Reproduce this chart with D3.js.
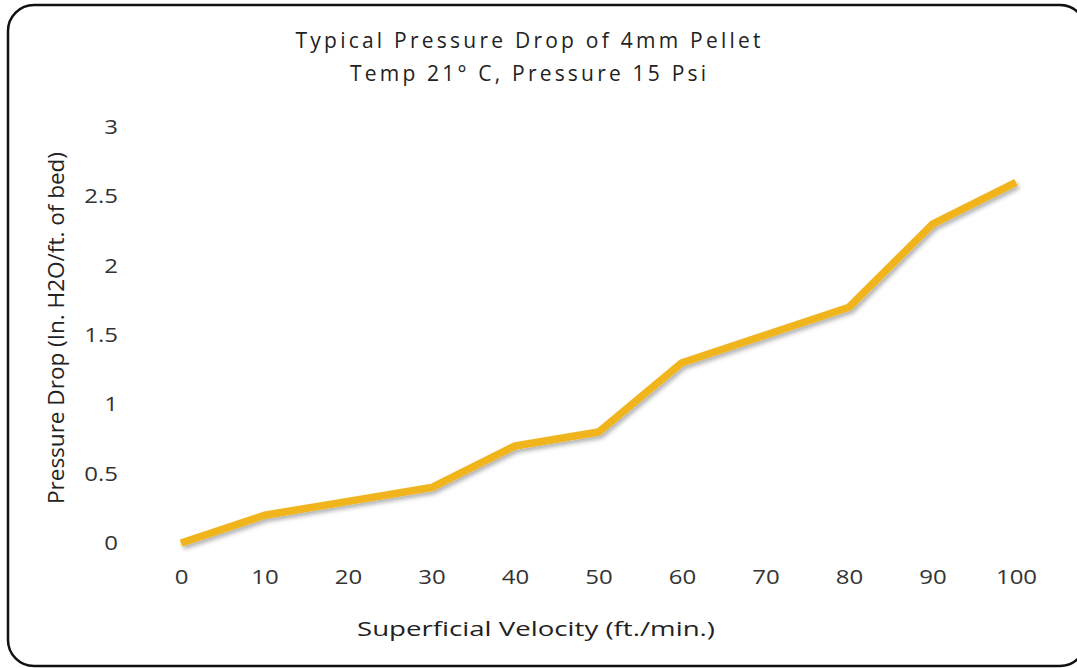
<!DOCTYPE html>
<html>
<head>
<meta charset="utf-8">
<script src="https://cdn.jsdelivr.net/npm/d3@7"></script>
<style>
  body { margin: 0; background: #fff; }
  svg { display: block; }
</style>
</head>
<body>
<div id="chart"></div>
<script>
// chart data
var velocity = [0, 10, 20, 30, 40, 50, 60, 70, 80, 90, 100];
var pressureDrop = [0, 0.2, 0.3, 0.4, 0.7, 0.8, 1.3, 1.5, 1.7, 2.3, 2.6];
var yTicks = [0, 0.5, 1, 1.5, 2, 2.5, 3];
var titleLines = ["Typical Pressure Drop of 4mm Pellet", "Temp 21\u00b0 C, Pressure 15 Psi"];

var width = 1077, height = 668;
var fontFamily = "'Open Sans', 'Noto Sans', sans-serif";
var titleWidths = [465, 356];   // title is letter-spaced in the original

var svg = d3.select("#chart").append("svg")
    .attr("width", width)
    .attr("height", height);

// drop shadow for the line
var defs = svg.append("defs");
var filter = defs.append("filter")
    .attr("id", "shadow")
    .attr("x", "-5%").attr("y", "-5%")
    .attr("width", "110%").attr("height", "120%");
filter.append("feDropShadow")
    .attr("dx", 2).attr("dy", 3)
    .attr("stdDeviation", 2)
    .attr("flood-color", "#000")
    .attr("flood-opacity", 0.3);

// outer rounded border (right side runs off the picture)
svg.append("rect")
    .attr("x", 8)
    .attr("y", 5)
    .attr("width", 1078)
    .attr("height", 661)
    .attr("rx", 26)
    .attr("ry", 26)
    .attr("fill", "#fff")
    .attr("stroke", "#111")
    .attr("stroke-width", 2.5);

var x = d3.scaleLinear().domain([0, 100]).range([181, 1016]);
var y = d3.scaleLinear().domain([0, 3]).range([543, 127]);

// title
svg.append("g").selectAll("text")
    .data(titleLines)
    .enter()
    .append("text")
    .attr("x", 528)
    .attr("y", function (d, i) { return 48 + i * 33; })
    .attr("text-anchor", "middle")
    .attr("font-family", fontFamily)
    .attr("font-size", "21px")
    .attr("textLength", function (d, i) { return titleWidths[i]; })
    .attr("lengthAdjust", "spacing")
    .attr("fill", "#222")
    .text(function (d) { return d; });

// y axis (labels only)
var yAxis = d3.axisLeft(y)
    .tickValues(yTicks)
    .tickSize(0)
    .tickPadding(0)
    .tickFormat(function (d) { return String(d); });
var yG = svg.append("g")
    .attr("transform", "translate(118,0)")
    .call(yAxis);
yG.select(".domain").remove();
yG.selectAll("text")
    .attr("font-family", fontFamily)
    .attr("font-size", "20px")
    .attr("transform", "scale(1.2,1)")
    .attr("fill", "#333");

// x axis (labels only)
var xAxis = d3.axisBottom(x)
    .tickValues(velocity)
    .tickSize(0)
    .tickPadding(0)
    .tickFormat(function (d) { return String(d); });
var xG = svg.append("g")
    .attr("transform", "translate(0,570)")
    .call(xAxis);
xG.select(".domain").remove();
xG.selectAll("text")
    .attr("font-family", fontFamily)
    .attr("font-size", "20px")
    .attr("transform", "scale(1.2,1)")
    .attr("fill", "#333");

// axis titles
svg.append("text")
    .attr("x", 536)
    .attr("y", 636)
    .attr("text-anchor", "middle")
    .attr("font-family", fontFamily)
    .attr("font-size", "20px")
    .attr("textLength", 358)
    .attr("lengthAdjust", "spacingAndGlyphs")
    .attr("fill", "#222")
    .text("Superficial Velocity (ft./min.)");

svg.append("text")
    .attr("transform", "translate(64,328) rotate(-90)")
    .attr("text-anchor", "middle")
    .attr("font-family", fontFamily)
    .attr("font-size", "21px")
    .attr("textLength", 352)
    .attr("lengthAdjust", "spacingAndGlyphs")
    .attr("fill", "#222")
    .text("Pressure Drop (In. H2O/ft. of bed)");

// data line
var line = d3.line()
    .x(function (d, i) { return x(velocity[i]); })
    .y(function (d) { return y(d); });

svg.append("path")
    .datum(pressureDrop)
    .attr("d", line)
    .attr("fill", "none")
    .attr("stroke", "#F0B51E")
    .attr("stroke-width", 7.5)
    .attr("stroke-linejoin", "round")
    .attr("filter", "url(#shadow)");
</script>
</body>
</html>
